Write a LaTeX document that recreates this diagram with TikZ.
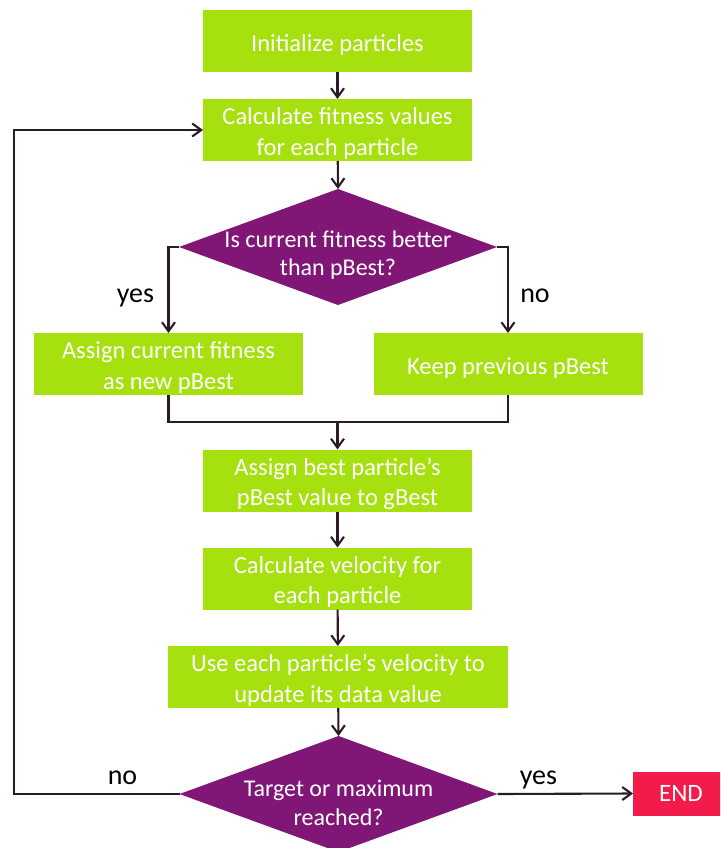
\documentclass[tikz,border=0pt]{standalone}
\usepackage{fontspec}
\setmainfont{Carlito}
\usetikzlibrary{shapes.geometric,arrows.meta}
\definecolor{boxgreen}{RGB}{166,224,14}
\definecolor{decpurple}{RGB}{128,23,118}
\definecolor{endred}{RGB}{242,27,75}
\definecolor{linedark}{RGB}{45,26,40}
% uniform first-line height, so every box sets its text at the same baseline
\newcommand{\topstrut}{\rule{0pt}{24pt}}
\tikzset{
  stepbox/.style={rectangle, fill=boxgreen, text=white, minimum height=62pt,
    inner sep=0pt, outer sep=0pt, align=center, font=\fontsize{24.5}{30.5}\selectfont},
  decision/.style={diamond, fill=decpurple, minimum width=318pt, minimum height=116pt,
    inner sep=0pt, outer sep=0pt},
  dtext/.style={text=white, align=center, font=\fontsize{24}{28.5}\selectfont},
  endbox/.style={rectangle, fill=endred, text=white, minimum width=96pt, minimum height=44pt,
    inner sep=0pt, outer sep=0pt, font=\fontsize{25}{30}\selectfont},
  flow/.style={draw=linedark, line width=2.1pt, -{Straight Barb[length=9pt,width=13pt]}},
  plain/.style={draw=linedark, line width=2.1pt},
  branch/.style={text=black, anchor=base, inner sep=0pt, font=\fontsize{28}{32}\selectfont}
}
\begin{document}
\begin{tikzpicture}[x=1pt,y=1pt]
\useasboundingbox (0,0) rectangle (720,-848);
\clip (0,0) rectangle (720,-848);

% process steps
\node[stepbox, minimum width=269pt] (init) at (337.5,-41) {\topstrut Initialize particles};
\node[stepbox, minimum width=269pt] (calc) at (337.5,-130) {\topstrut Calculate fitness values\\for each particle};
\node[decision, label={[dtext, yshift=-8pt]center:{Is current fitness better\\than pBest?}}] (d1) at (338,-247) {};
\node[stepbox, minimum width=269pt] (assign) at (168.5,-364) {\topstrut Assign current fitness\\as new pBest};
\node[stepbox, minimum width=269pt] (keep) at (508,-364) {\topstrut Keep previous pBest};
\node[stepbox, minimum width=269pt] (best) at (337.5,-480.5) {\topstrut Assign best particle’s\\pBest value to gBest};
\node[stepbox, minimum width=269pt] (vel) at (337.5,-578.5) {\topstrut Calculate velocity for\\each particle};
\node[stepbox, minimum width=340pt] (upd) at (338,-677) {\topstrut Use each particle’s velocity to\\update its data value};
\node[decision, label={[dtext, yshift=-9pt]center:{Target or maximum\\reached?}}] (d2) at (338.5,-794) {};
\node[endbox] (end) at (681,-793.5) {END};

% helper points
\coordinate (merge) at (337.5,-422);
\coordinate (loop) at (14,-794);

% connectors
\draw[flow] (init) -- (calc);
\draw[flow] (calc) -- (d1.north);
\draw[flow] (d1.west) -| (assign.north);
\draw[flow] (d1.east) -| (keep.north);
\draw[plain] (assign.south) |- (merge) -| (keep.south);
\draw[flow] (merge) -- (best.north);
\draw[flow] (best) -- (vel);
\draw[flow] (vel) -- (upd);
\draw[flow] (upd) -- (d2.north);
\draw[flow] (d2.west) -- (loop) |- (calc.west);
\draw[flow] (d2.east) -- (end.west);

% branch labels
\node[branch] (lyes1) at (135.5,-302) {yes};
\node[branch] (lno1) at (535,-302) {no};
\node[branch] (lno2) at (122.5,-784) {no};
\node[branch] (lyes2) at (538.5,-784) {yes};
\end{tikzpicture}
\end{document}
